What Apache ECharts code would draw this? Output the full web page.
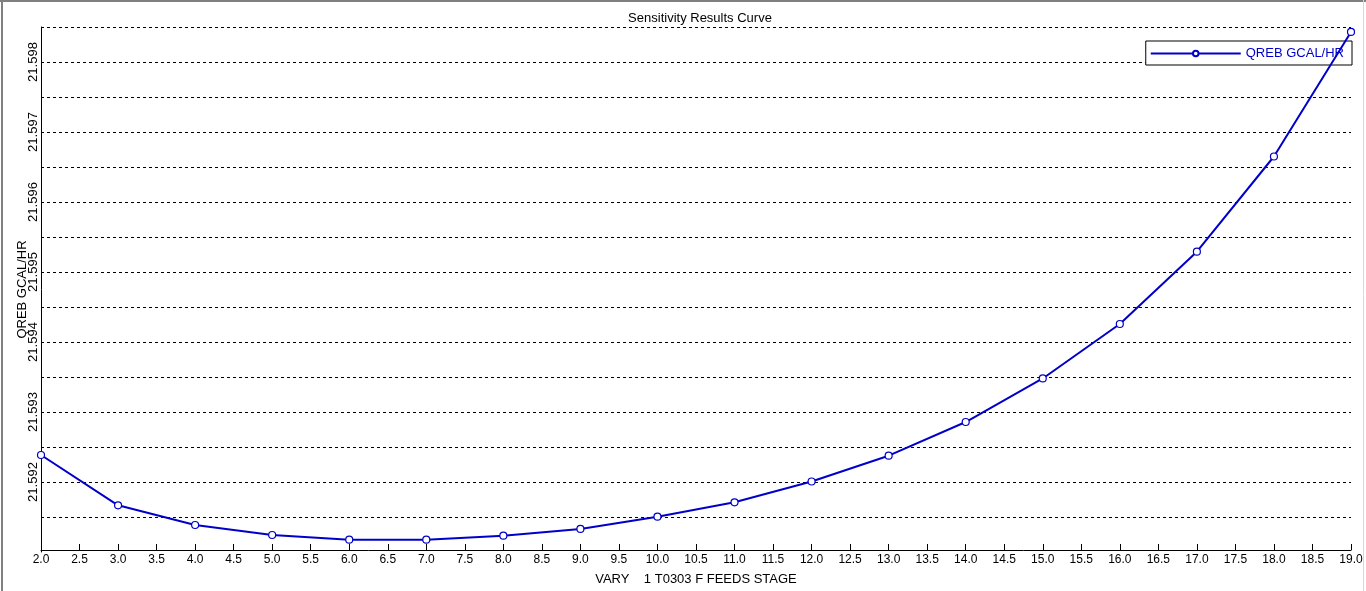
<!DOCTYPE html>
<html>
<head>
<meta charset="utf-8">
<script src="https://cdn.jsdelivr.net/npm/echarts@6/dist/echarts.min.js"></script>
<style>
html,body{margin:0;padding:0;background:#fff;}
#chart{width:1366px;height:591px;}
</style>
</head>
<body>
<div id="chart"></div>
<script>
// Data
const stages = [2,3,4,5,6,7,8,9,10,11,12,13,14,15,16,17,18,19];
const qreb = [21.592386,21.591667,21.591386,21.591243,21.591176,21.591176,21.591233,21.591329,21.591504,21.591710,21.592007,21.592376,21.592857,21.593479,21.594257,21.595290,21.596650,21.598429];
const titleText = 'Sensitivity Results Curve';
const seriesName = 'QREB GCAL/HR';
const xName = 'VARY    1 T0303 F FEEDS STAGE';
const yName = 'QREB GCAL/HR';

const FONT = '"Liberation Sans", Arial, sans-serif';
const BLUE = '#0000c8';

const chart = echarts.init(document.getElementById('chart'), null, {renderer:'canvas'});
chart.setOption({
  animation:false,
  backgroundColor:'#ffffff',
  title:{
    text:titleText, left:695, top:7, textAlign:'center',
    textStyle:{fontFamily:FONT, fontSize:13, fontWeight:'normal', color:'#000'}
  },
  legend:{
    right:14, top:41,
    data:[seriesName],
    itemWidth:90, itemHeight:7, itemGap:6,
    padding:[6,8,5,4],
    borderColor:'#000', borderWidth:1, backgroundColor:'#fff',
    textStyle:{fontFamily:FONT, fontSize:13, color:BLUE, padding:[0,0,0,0]}
  },
  grid:{left:41, right:15, top:27, bottom:39, containLabel:false, outerBoundsMode:'none'},
  xAxis:{
    type:'value', min:2, max:19, interval:0.5,
    offset:-2,
    name:xName, nameLocation:'middle', nameGap:23, nameMoveOverlap:false,
    nameTextStyle:{fontFamily:FONT, fontSize:13, color:'#000'},
    axisLine:{show:true, onZero:false, lineStyle:{color:'#000', width:1}},
    axisTick:{show:true, inside:true, length:6, lineStyle:{color:'#000'}},
    axisLabel:{fontFamily:FONT, fontSize:12, color:'#000', margin:4,
      formatter:v=>v.toFixed(1), showMinLabel:true, showMaxLabel:true, hideOverlap:false},
    splitLine:{show:false}
  },
  yAxis:{
    type:'value', min:21.591, max:21.5985, interval:0.0005,
    name:yName, nameLocation:'middle', nameGap:12, nameRotate:90, nameMoveOverlap:false,
    nameTextStyle:{fontFamily:FONT, fontSize:13, color:'#000'},
    axisLine:{show:true, lineStyle:{color:'#000', width:1}},
    axisTick:{show:false},
    axisLabel:{fontFamily:FONT, fontSize:13, color:'#000', margin:1, rotate:90,
      formatter:function(v){
        const k = Math.round(v*2000);
        if (k % 2 !== 0) return '';
        const s = (k/2000).toFixed(3);
        return s === '21.591' ? '' : s;
      }},
    splitLine:{show:true, showMinLine:false, showMaxLine:true,
      lineStyle:{color:'#000', type:[3,3], width:1}}
  },
  series:[{
    name:seriesName, type:'line',
    data:stages.map((s,i)=>[s,qreb[i]]),
    symbol:'circle', symbolSize:7, showAllSymbol:true,
    clip:false,
    lineStyle:{color:BLUE, width:2},
    itemStyle:{color:'#fff', borderColor:BLUE, borderWidth:1.2},
    z:5
  }],
  graphic:[
    {type:'line', shape:{x1:2,y1:0,x2:2,y2:591}, style:{stroke:'#808080', lineWidth:2}, silent:true},
    {type:'line', shape:{x1:0,y1:1,x2:1366,y2:1}, style:{stroke:'#808080', lineWidth:2}, silent:true},
    {type:'line', shape:{x1:1363.5,y1:0,x2:1363.5,y2:591}, style:{stroke:'#d8d8d8', lineWidth:1}, silent:true}
  ]
});
</script>
</body>
</html>
